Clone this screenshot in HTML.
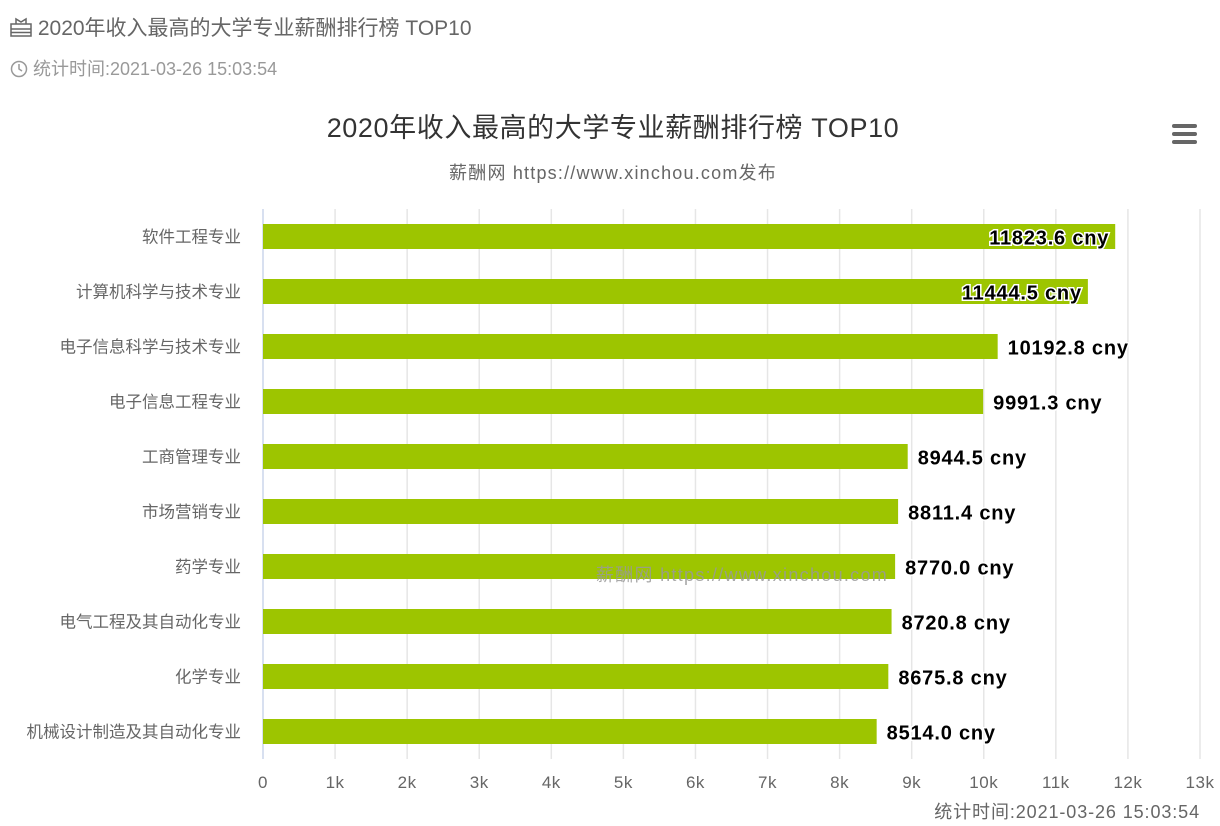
<!DOCTYPE html>
<html><head><meta charset="utf-8"><style>
body{margin:0;background:#fff;width:1220px;height:826px;overflow:hidden;font-family:"Liberation Sans","Noto Sans CJK SC",sans-serif;}
.hdr{position:absolute;left:10px;color:#666;}
</style></head><body>
<div class="hdr" style="top:12px;font-size:21px;">
<svg width="22" height="20" viewBox="0 0 22 20" style="vertical-align:-2px"><g fill="none" stroke="#666" stroke-width="1.5"><rect x="1" y="7" width="20" height="12"/><line x1="1" y1="12" x2="21" y2="12"/><line x1="1" y1="15.5" x2="21" y2="15.5"/><path d="M6 7 L6 2 L11 5 L16 2 L16 7"/></g></svg> 2020年收入最高的大学专业薪酬排行榜 TOP10</div>
<div class="hdr" style="top:55px;font-size:18px;color:#999;">
<svg width="18" height="18" viewBox="0 0 18 18" style="vertical-align:-3px"><circle cx="9" cy="9" r="7.5" fill="none" stroke="#999" stroke-width="1.5"/><path d="M9 4 V9 L12 11" fill="none" stroke="#999" stroke-width="1.5"/></svg> 统计时间:2021-03-26 15:03:54</div>
<svg id="c" width="1220" height="826" style="position:absolute;left:0;top:0"></svg>
<script>
const categories=["软件工程专业","计算机科学与技术专业","电子信息科学与技术专业","电子信息工程专业","工商管理专业","市场营销专业","药学专业","电气工程及其自动化专业","化学专业","机械设计制造及其自动化专业"];
const values=[11823.6,11444.5,10192.8,9991.3,8944.5,8811.4,8770.0,8720.8,8675.8,8514.0];
const tickLabels=["0","1k","2k","3k","4k","5k","6k","7k","8k","9k","10k","11k","12k","13k"];
const tickValues=[0,1000,2000,3000,4000,5000,6000,7000,8000,9000,10000,11000,12000,13000];
const svg=document.getElementById('c');const NS="http://www.w3.org/2000/svg";
const x0=263,pxPer=(1200-263)/13000;
const xs=v=>x0+v*pxPer;
const ys=i=>236.5+i*55;
function mk(t,a,p){const e=document.createElementNS(NS,t);for(const k in a)e.setAttribute(k,a[k]);(p||svg).appendChild(e);return e;}
let t=mk('text',{x:613,y:137,'text-anchor':'middle','font-size':27,'letter-spacing':0.6,fill:'#333'});t.textContent="2020年收入最高的大学专业薪酬排行榜 TOP10";


t=mk('text',{x:613,y:179,'text-anchor':'middle','font-size':18,'letter-spacing':1.2,fill:'#666'});t.textContent="薪酬网 https://www.xinchou.com发布";


const menu=mk('g',{});


[126,134,142].forEach(y=>mk('rect',{x:1172,y:y-2,width:25,height:4,rx:2,fill:'#666'},menu));
tickValues.forEach((v,i)=>{
 if(i>0){const l=mk('line',{x1:xs(v),x2:xs(v),y1:209,y2:759,stroke:'#e6e6e6','stroke-width':1.5});
 
 }
 const tx=mk('text',{x:xs(v),y:788,'text-anchor':'middle','font-size':17,'letter-spacing':0.5,fill:'#666'});tx.textContent=tickLabels[i];
 
 
});
const ax=mk('line',{x1:x0,x2:x0,y1:209,y2:759,stroke:'#ccd6eb','stroke-width':1.5});


categories.forEach((c,i)=>{
 const l=mk('text',{x:241,y:ys(i)+6,'text-anchor':'end','font-size':16.5,fill:'#666'});l.textContent=c;
 
 
 const b=mk('rect',{x:x0,y:ys(i)-12.5,width:xs(values[i])-x0,height:25,fill:'#9dc500'});
 
 
 const inside=xs(values[i])+150>1200;
 const v=mk('text',{x:inside?xs(values[i])-6:xs(values[i])+10,y:ys(i)+8,'text-anchor':inside?'end':'start','font-size':20,'letter-spacing':0.8,'font-weight':'bold',fill:'#000',stroke:'#fff','stroke-width':3,'paint-order':'stroke'});
 v.textContent=values[i].toFixed(1)+" cny";
 
 
});
t=mk('text',{x:742,y:581,'text-anchor':'middle','font-size':18,'letter-spacing':1.3,fill:'#999','fill-opacity':0.85});t.textContent="薪酬网 https://www.xinchou.com";


t=mk('text',{x:1200,y:818,'text-anchor':'end','font-size':18,'letter-spacing':0.9,fill:'#666'});t.textContent="统计时间:2021-03-26 15:03:54";


</script>
</body></html>
